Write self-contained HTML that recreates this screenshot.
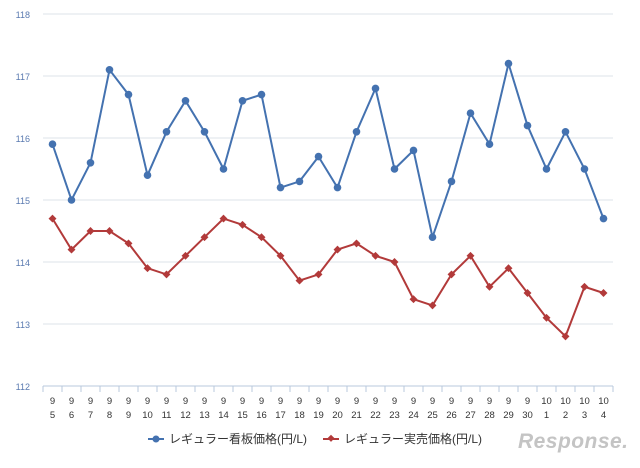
<!DOCTYPE html>
<html><head><meta charset="utf-8"><style>
body{margin:0;background:#fff;width:640px;height:463px;overflow:hidden;font-family:"Liberation Sans","Noto Sans CJK JP",sans-serif}
</style></head><body>
<svg width="640" height="463" xmlns="http://www.w3.org/2000/svg">
<g id="grid"></g>
<g id="axes"></g>
<g id="series"></g>
<g font-size="12" fill="#333">
<g>
<line x1="148" y1="439" x2="164" y2="439" stroke="#4472b0" stroke-width="2"/><circle cx="156" cy="439" r="3.5" fill="#4472b0"/>
<text x="169" y="443">レギュラー看板価格(円/L)</text></g>
<g>
<line x1="323" y1="439" x2="339" y2="439" stroke="#b23a3a" stroke-width="2"/><rect x="328" y="436" width="5" height="5" transform="rotate(45 331 439)" fill="#b23a3a"/>
<text x="344" y="443">レギュラー実売価格(円/L)</text></g>
</g>
<text x="518" y="448" font-size="21" font-style="italic" fill="#c4c4c4" font-weight="bold" textLength="110">Response.</text>
</svg>
<script>
const categories=[["9","5"],["9","6"],["9","7"],["9","8"],["9","9"],["9","10"],["9","11"],["9","12"],["9","13"],["9","14"],["9","15"],["9","16"],["9","17"],["9","18"],["9","19"],["9","20"],["9","21"],["9","22"],["9","23"],["9","24"],["9","25"],["9","26"],["9","27"],["9","28"],["9","29"],["9","30"],["10","1"],["10","2"],["10","3"],["10","4"]];
const signboard=[115.9,115.0,115.6,117.1,116.7,115.4,116.1,116.6,116.1,115.5,116.6,116.7,115.2,115.3,115.7,115.2,116.1,116.8,115.5,115.8,114.4,115.3,116.4,115.9,117.2,116.2,115.5,116.1,115.5,114.7];
const actual=[114.7,114.2,114.5,114.5,114.3,113.9,113.8,114.1,114.4,114.7,114.6,114.4,114.1,113.7,113.8,114.2,114.3,114.1,114.0,113.4,113.3,113.8,114.1,113.6,113.9,113.5,113.1,112.8,113.6,113.5];
const yTicks=[112,113,114,115,116,117,118];
const NS="http://www.w3.org/2000/svg";
const L=43,R=613,T=14,B=386,ymin=112,ymax=118;
const bw=(R-L)/categories.length;
const x=i=>L+bw*(i+0.5);
const y=v=>B-(v-ymin)/(ymax-ymin)*(B-T);
function mk(p,tag,a){const e=document.createElementNS(NS,tag);for(const k in a)e.setAttribute(k,a[k]);p.appendChild(e);return e;}
const grid=document.getElementById('grid'),axes=document.getElementById('axes'),ser=document.getElementById('series');
yTicks.forEach(t=>{
 if(t>ymin){const g=mk(grid,'line',{x1:L,x2:R,y1:y(t),y2:y(t),stroke:'#dde3ea','stroke-width':1});
 
 }
 const tx=mk(axes,'text',{x:30,y:y(t)+4,'font-size':9,fill:'#5a7ab0','text-anchor':'end'});tx.textContent=t;
 
 
});
mk(axes,'line',{x1:L,x2:R,y1:B,y2:B,stroke:'#b8c8dc','stroke-width':1});
for(let i=0;i<=categories.length;i++){mk(axes,'line',{x1:L+bw*i,x2:L+bw*i,y1:B,y2:B+6,stroke:'#b8c8dc'});}
categories.forEach((c,i)=>{
 [0,1].forEach(j=>{const t=mk(axes,'text',{x:x(i),y:404+j*14,'font-size':9.5,fill:'#333','text-anchor':'middle'});t.textContent=c[j];
 
 });
});
function draw(vals,col,shape,name){
 const pl=mk(ser,'polyline',{points:vals.map((v,i)=>x(i)+','+y(v)).join(' '),fill:'none',stroke:col,'stroke-width':2});
 
 
 vals.forEach((v,i)=>{let m;
  if(shape==='c')m=mk(ser,'circle',{cx:x(i),cy:y(v),r:3.8,fill:col});
  else m=mk(ser,'rect',{x:x(i)-2.8,y:y(v)-2.8,width:5.6,height:5.6,fill:col,transform:`rotate(45 ${x(i)} ${y(v)})`});
  
  
 });
}
draw(signboard,'#4472b0','c','signboard');
draw(actual,'#b23a3a','d','actual');
</script>
</body></html>
